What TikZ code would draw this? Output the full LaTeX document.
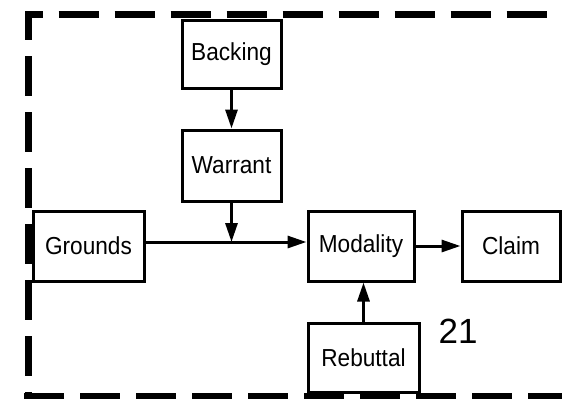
\documentclass[tikz,border=0pt]{standalone}
\usepackage{fontspec}
\setmainfont{Liberation Sans}
\newfontfamily\boxfont[FakeStretch=0.92]{Liberation Sans}
\usepackage{tikz}
\usetikzlibrary{arrows.meta}

\begin{document}
\begin{tikzpicture}[x=0.5pt, y=-0.5pt,
    argbox/.style={draw, line width=1.5pt, inner sep=0pt, font=\boxfont\fontsize{12.3}{14}\selectfont},
    flow/.style={line width=1.5pt, -{Triangle[length=9.5pt, width=6pt]}}]
    \useasboundingbox (0,0) rectangle (562,398);
    \clip (0,0) rectangle (562,398);

    % Dashed frame
    \draw[line width=3.5pt, dash pattern=on 20pt off 8pt, dash phase=17.5pt]
        (28,396.5) -- (28,14) -- (600,14);
    \draw[line width=3.5pt, dash pattern=on 20pt off 8pt]
        (24,396.5) -- (600,396.5);

    % Toulmin elements
    \node[argbox, minimum width=49.5pt, minimum height=34pt]   (bk) at (231.5,54)   {Backing};
    \node[argbox, minimum width=49.5pt, minimum height=35.5pt] (wr) at (231.5,165.5) {Warrant};
    \node[argbox, minimum width=55.5pt, minimum height=35pt]   (gr) at (88.5,246)   {Grounds};
    \node[argbox, minimum width=53pt, minimum height=35pt]     (md) at (361,246)    {Modality};
    \node[argbox, minimum width=49pt, minimum height=35pt]     (cl) at (511,246)    {Claim};
    \node[argbox, minimum width=55.5pt, minimum height=34.5pt] (rb) at (363.5,357.5) {Rebuttal};
    \node[font=\fontsize{17.5}{20}\selectfont] (num) at (458,331) {21};

    % Connectors
    \coordinate (jn) at (wr.south |- 0,242);
    \draw[flow] (bk.south) -- (wr.north);
    \draw[flow] (wr.south) -- (jn);
    \draw[line width=1.5pt] (gr.east |- jn) -- (jn);
    \draw[flow] (jn) -- (md.west |- jn);
    \draw[flow] (md.east) -- (cl.west);
    \draw[flow] (rb.north) -- (rb.north |- md.south);
\end{tikzpicture}
\end{document}
